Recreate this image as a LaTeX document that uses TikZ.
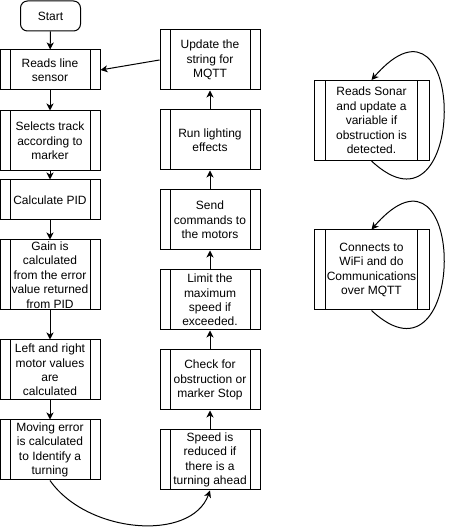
\documentclass[tikz,border=0pt]{standalone}
\usepackage{fontspec}
\setmainfont{Liberation Sans}
\usetikzlibrary{positioning,calc,arrows.meta}

\begin{document}
\begin{tikzpicture}[
    x=1pt, y=1pt,
    font=\fontsize{12}{14.4}\selectfont,
    block/.style={rectangle, draw, line width=1pt, fill=white, minimum width=100pt, minimum height=60pt, inner sep=0pt, align=center,
        path picture={
            \draw[line width=1pt] ($(path picture bounding box.north west)!0.1!(path picture bounding box.north east)$) -- ($(path picture bounding box.south west)!0.1!(path picture bounding box.south east)$);
            \draw[line width=1pt] ($(path picture bounding box.north west)!0.9!(path picture bounding box.north east)$) -- ($(path picture bounding box.south west)!0.9!(path picture bounding box.south east)$);
        }},
    startbox/.style={rectangle, draw, line width=1pt, rounded corners=7pt, minimum width=60pt, minimum height=30pt, align=center},
    arrow/.style={-{Stealth[length=7pt, width=7pt, inset=2pt]}, line width=1pt}
]
    \useasboundingbox (0,0) rectangle (451,527);

    % main loop, left column
    \node[startbox] (start) at (50.5, 511) {Start};
    \node[block, minimum height=40pt] (readline) at (50, 457) {Reads line\\sensor};
    \node[block] (track) at (50, 386) {Selects track\\according to\\marker};
    \node[block, minimum height=40pt] (pid) at (50, 327) {Calculate PID};
    \node[block, minimum height=70pt] (gain) at (50, 252) {Gain is\\calculated\\from the error\\value returned\\from PID};
    \node[block] (motorval) at (50, 157) {Left and right\\motor values\\are\\calculated};
    \node[block] (moverr) at (50, 77) {Moving error\\is calculated\\to Identify a\\turning};

    % right column, going up
    \node[block] (speed) at (210, 67) {Speed is\\reduced if\\there is a\\turning ahead};
    \node[block] (check) at (210, 147) {Check for\\obstruction or\\marker Stop};
    \node[block] (limit) at (210, 227) {Limit the\\maximum\\speed if\\exceeded.};
    \node[block] (send) at (210, 307) {Send\\commands to\\the motors};
    \node[block] (lights) at (210, 387) {Run lighting\\effects};
    \node[block] (update) at (210, 467) {Update the\\string for\\MQTT};

    % side tasks
    \node[block, minimum width=115pt, minimum height=80pt] (sonar) at (371.5, 406.5) {Reads Sonar\\and update a\\variable if\\obstruction is\\detected.};
    \node[block, minimum width=115pt, minimum height=80pt] (wifi) at (371.5, 257) {Connects to\\WiFi and do\\Communications\\over MQTT};

    \draw[arrow] (start) -- (readline);
    \draw[arrow] (readline) -- (track);
    \draw[arrow] (track) -- (pid);
    \draw[arrow] (pid) -- (gain);
    \draw[arrow] (gain) -- (motorval);
    \draw[arrow] (motorval) -- (moverr);
    \draw[arrow] (moverr.south) to[out=-55, in=-110, out distance=65pt, in distance=55pt] (speed.south);
    \draw[arrow] (speed) -- (check);
    \draw[arrow] (check) -- (limit);
    \draw[arrow] (limit) -- (send);
    \draw[arrow] (send) -- (lights);
    \draw[arrow] (lights) -- (update);
    \draw[arrow] (update.west) -- (readline.east);

    % self loops
    \draw[arrow] (sonar.south) to[out=-43, in=49, out distance=132pt, in distance=147pt] (sonar.north);
    \draw[arrow] (wifi.south) to[out=-43, in=49, out distance=132pt, in distance=147pt] (wifi.north);
\end{tikzpicture}
\end{document}
